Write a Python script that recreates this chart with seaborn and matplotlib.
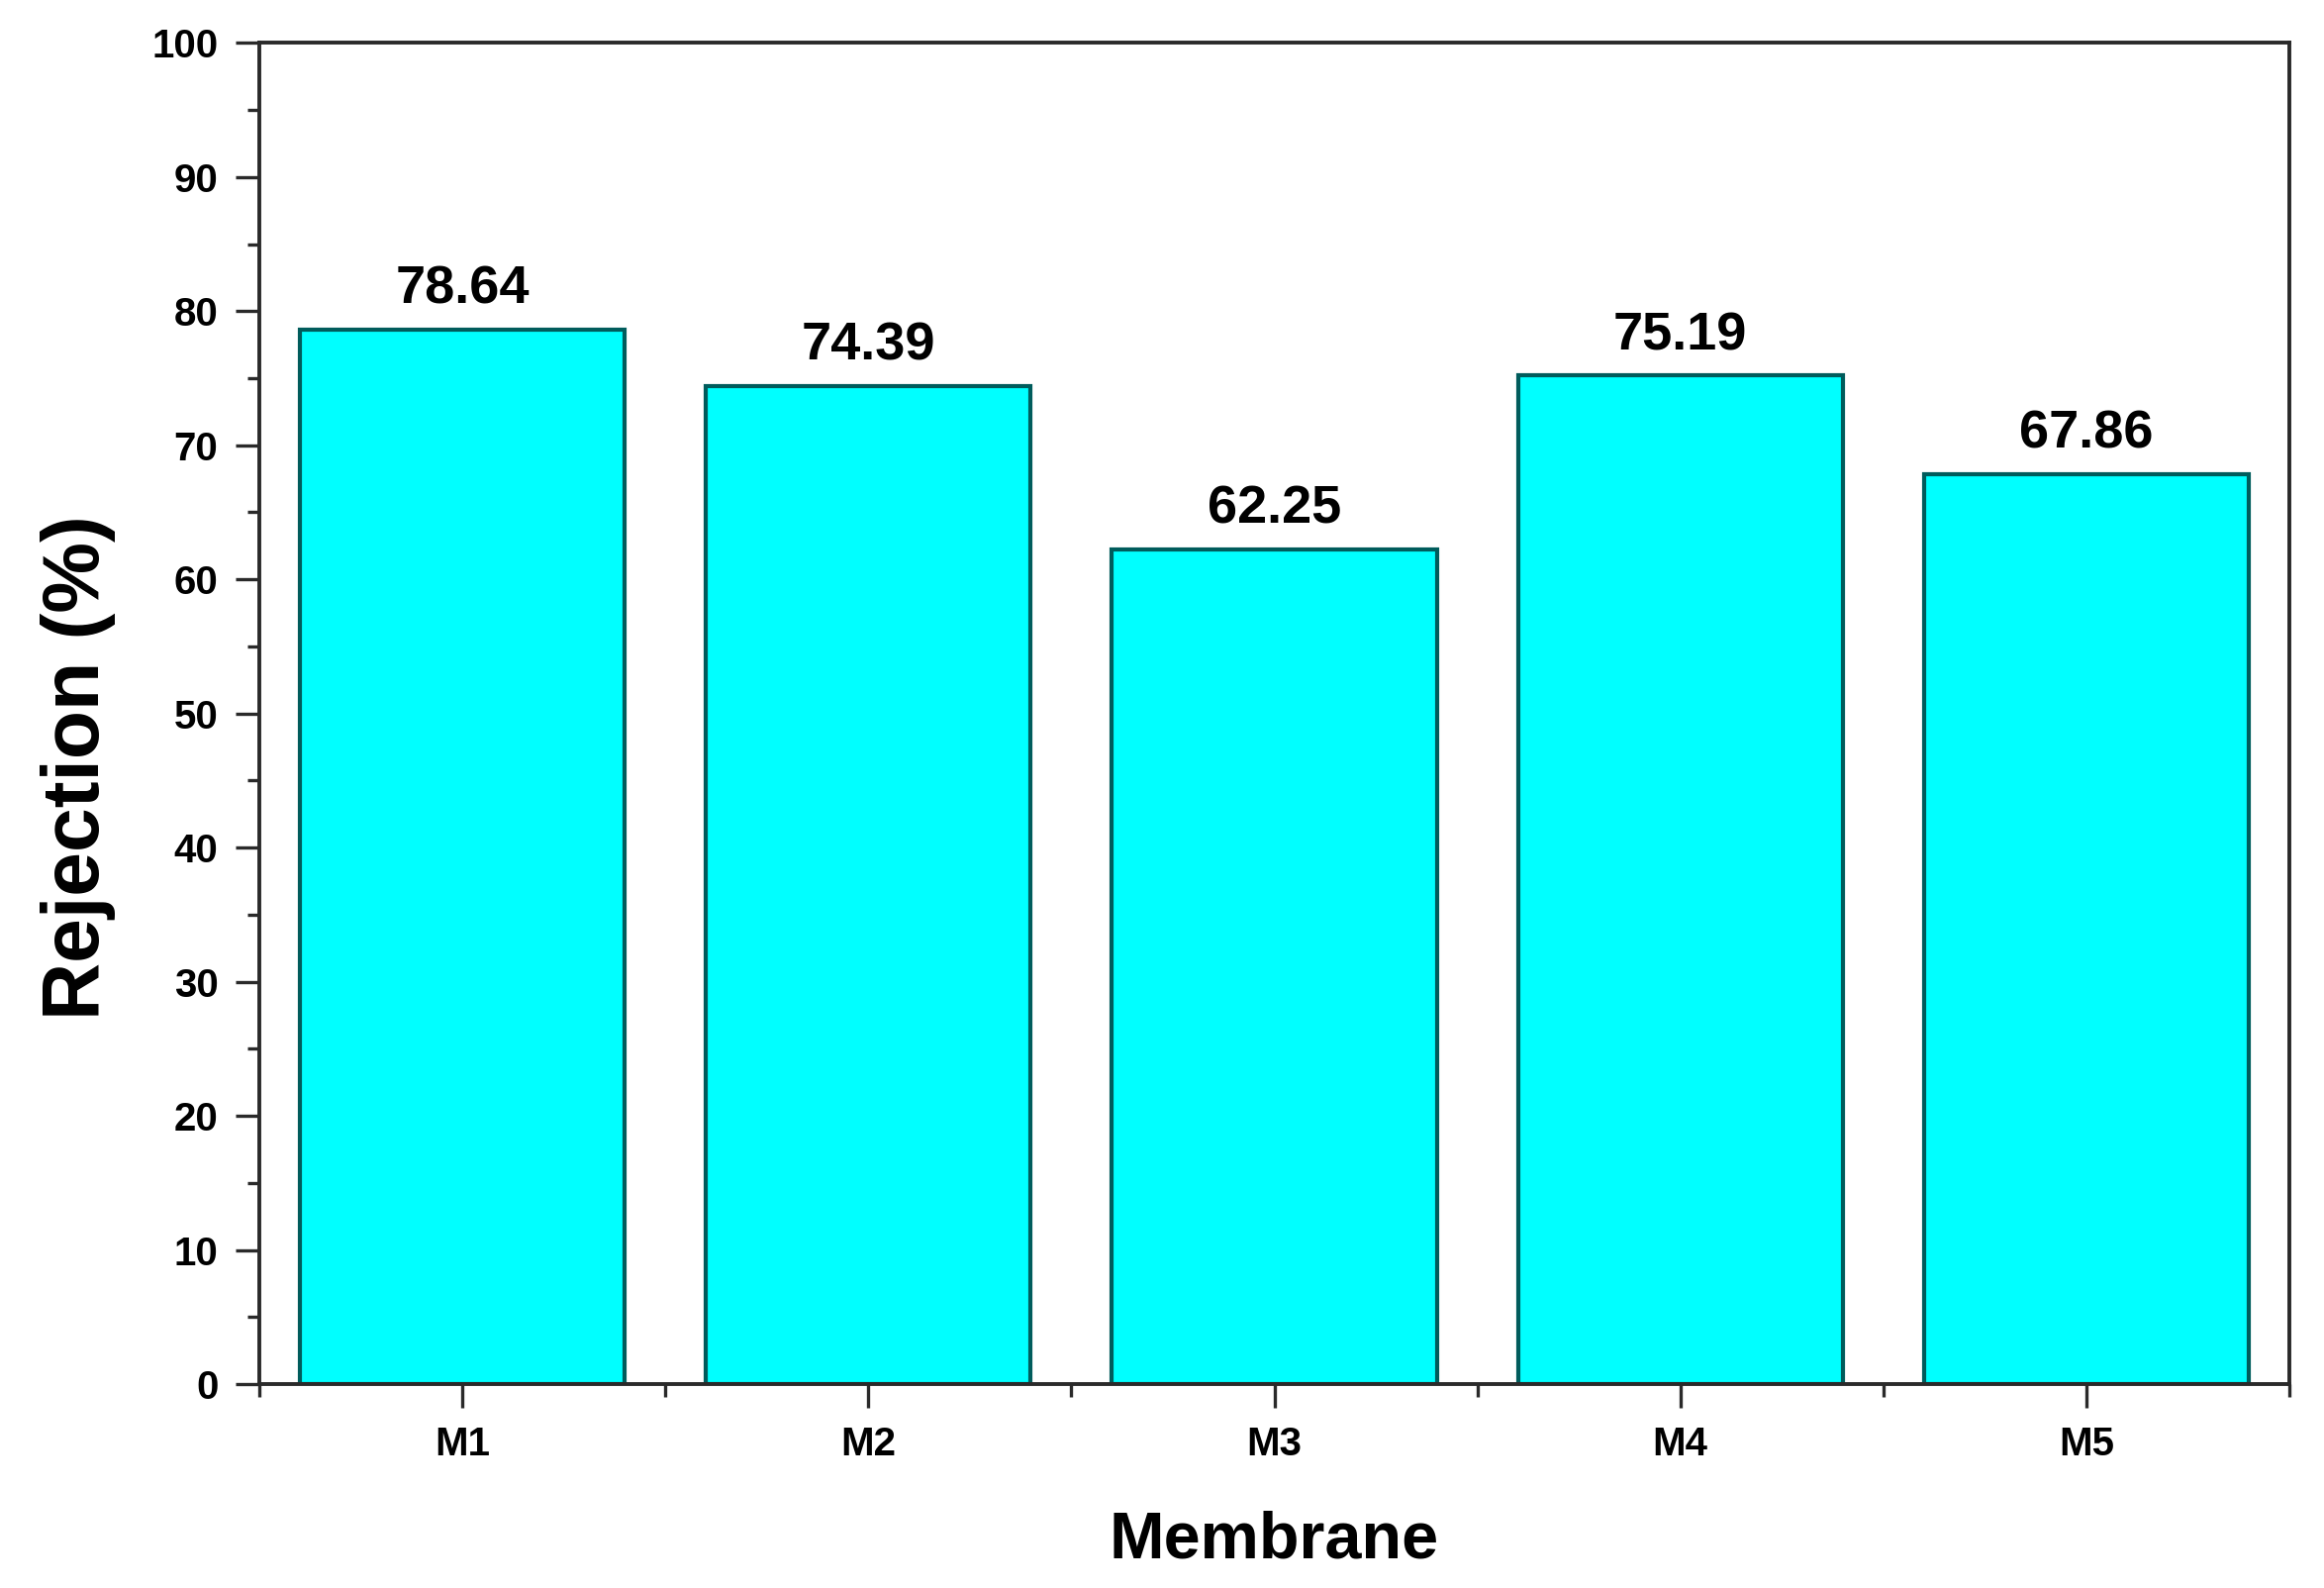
import numpy as np
import pandas as pd
import matplotlib
matplotlib.use('Agg')
import matplotlib.pyplot as plt
import seaborn as sns

# dados
membranas = ['M1', 'M2', 'M3', 'M4', 'M5']
rejeicao = [78.64, 74.39, 62.25, 75.19, 67.86]
rotulos = ['78.64', '74.39', '62.25', '75.19', '67.86']
yticks = [0, 10, 20, 30, 40, 50, 60, 70, 80, 90, 100]

sns.set_theme(style='ticks')
plt.rcParams['font.family'] = ['Liberation Sans', 'DejaVu Sans']
plt.rcParams['font.weight'] = 'bold'

df = pd.DataFrame({'Membrane': membranas, 'Rejection': rejeicao})

fig = plt.figure(figsize=(23.48, 16.04), dpi=100)
ax = fig.add_axes([0.1116, 0.1284, 0.8735, 0.8446])

sns.barplot(data=df, x='Membrane', y='Rejection', color='#00FFFF',
            saturation=1, edgecolor='#005c5c', linewidth=3, width=0.8, ax=ax)

ax.bar_label(ax.containers[0], labels=rotulos, padding=11,
             fontsize=39, fontweight='bold', color='black')

ax.set_xlim(-0.5, 4.5)
ax.set_ylim(0, 100)
ax.set_yticks(yticks)
ax.set_yticks(np.arange(5, 100, 10), minor=True)
ax.set_xticks(np.arange(-0.5, 5, 1), minor=True)

for lado in ['left', 'right', 'top', 'bottom']:
    ax.spines[lado].set_visible(True)
    ax.spines[lado].set_linewidth(2.8)
    ax.spines[lado].set_color('#2a2a2a')

ax.tick_params(axis='both', which='major', direction='out', length=17, width=2.4,
               color='#2a2a2a', labelsize=29, pad=13)
ax.tick_params(axis='both', which='minor', direction='out', length=9, width=2.4,
               color='#2a2a2a')
ax.tick_params(axis='y', which='both', right=False)
ax.tick_params(axis='x', which='both', top=False)
for t in ax.get_xticklabels() + ax.get_yticklabels():
    t.set_fontweight('bold')
    t.set_color('black')

ax.set_ylabel('Rejection (%)', fontsize=58, fontweight='bold', va='center', color='black')
ax.set_xlabel('Membrane', fontsize=48, fontweight='bold', va='center', color='black')
ax.yaxis.set_label_coords(-0.089, 0.46)
ax.xaxis.set_label_coords(0.5, -0.117)

fig.savefig('out.png', dpi=100, facecolor='white')
